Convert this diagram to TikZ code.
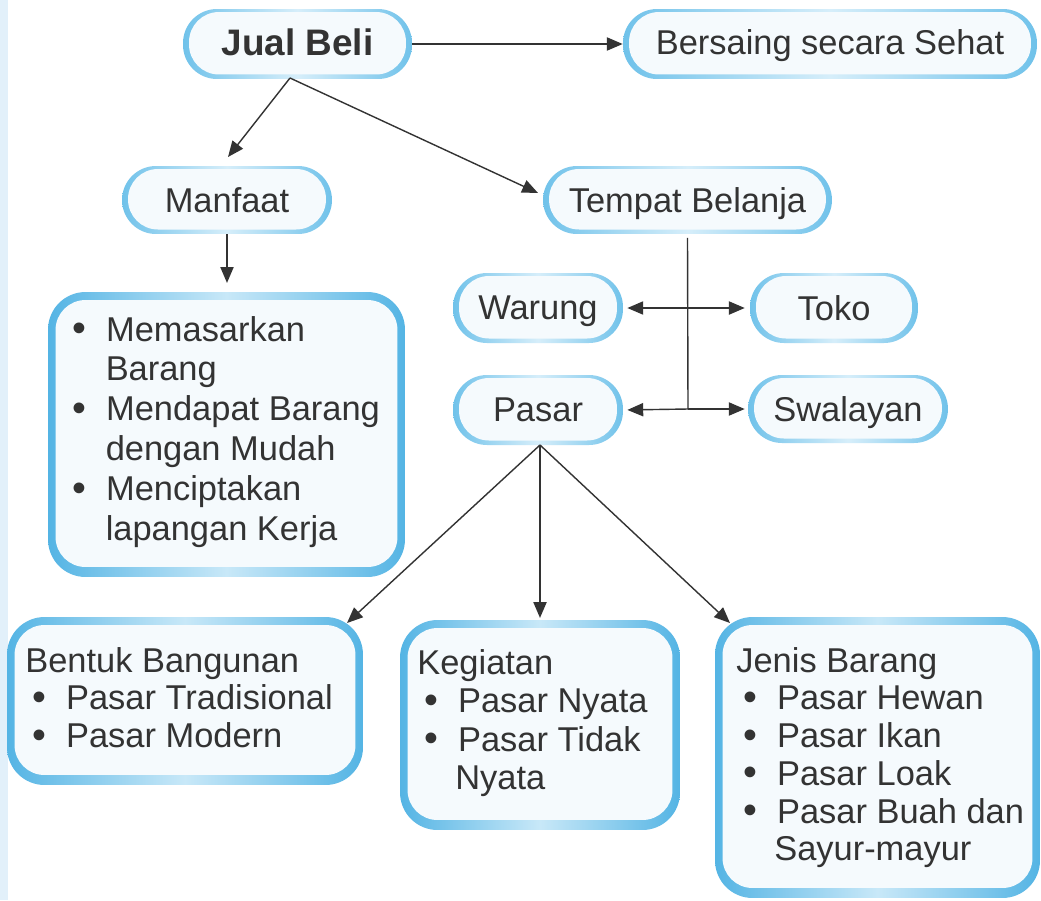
\documentclass[tikz,border=0pt]{standalone}
\usepackage{fontspec}
\setmainfont{Liberation Sans}
\usetikzlibrary{arrows.meta,calc}
\definecolor{bblue}{RGB}{84,180,228}
\definecolor{pblue}{RGB}{112,194,234}
\definecolor{blight}{RGB}{200,232,248}
\definecolor{plight}{RGB}{214,238,250}
\definecolor{bfill}{RGB}{245,250,253}
\definecolor{txt}{RGB}{51,51,51}
\definecolor{stripc}{RGB}{226,240,250}
\newcommand\bitem[1]{\hspace*{4.3pt}\makebox[18.9pt][l]{\smash{\raisebox{-0.3pt}{\scalebox{1.15}{\textbullet}}}}#1}
\newcommand\cont[1]{\hspace*{21.6pt}#1}
\begin{document}
\begin{tikzpicture}[x=0.02cm,y=-0.02cm,
  pill/.style={rectangle, rounded corners=0.68cm, minimum height=1.36cm, inner sep=0pt,
    left color=pblue, right color=pblue, middle color=plight,
    path picture={\fill[bfill, rounded corners=0.6cm]
      ([xshift=0.12cm,yshift=-0.06cm]path picture bounding box.north west) rectangle
      ([xshift=-0.12cm,yshift=0.09cm]path picture bounding box.south east);},
    font=\fontsize{19.6}{22}\selectfont, text=txt, text depth=0pt},
  listbox/.style={rectangle, rounded corners=0.75cm, inner sep=0pt,
    left color=bblue, right color=bblue, middle color=blight,
    path picture={\fill[bfill, rounded corners=0.6cm]
      ([xshift=0.15cm,yshift=-0.16cm]path picture bounding box.north west) rectangle
      ([xshift=-0.15cm,yshift=0.2cm]path picture bounding box.south east);}},
  listtext/.style={anchor=base west, inner sep=0pt, text=txt},
  arr/.style={draw=txt, line width=0.8pt, -{Triangle[length=9pt,width=7.5pt]}},
  plain/.style={draw=txt, line width=0.8pt}
]
\useasboundingbox (0,0) rectangle (1041,900);
\fill[white] (0,0) rectangle (1041,900);
\fill[stripc] (0,0) rectangle (8,900);

% pills
\node[pill, minimum width=4.58cm, minimum height=1.4cm] (jual) at (297.5,44)
  {\raisebox{2.3pt}{\bfseries\fontsize{21}{24}\selectfont Jual Beli}};
\node[pill, minimum width=8.28cm, minimum height=1.4cm] (bersaing) at (830,44)
  {\raisebox{1.8pt}{Bersaing secara Sehat}};
\node[pill, minimum width=4.2cm] (manfaat) at (227,200) {Manfaat};
\node[pill, minimum width=5.78cm] (tempat) at (687.5,200) {Tempat Belanja};
\node[pill, minimum width=3.4cm, minimum height=1.4cm] (warung) at (538,308) {Warung};
\node[pill, minimum width=3.36cm, minimum height=1.4cm] (toko) at (834,308) {Toko};
\node[pill, minimum width=3.4cm, minimum height=1.4cm] (pasar) at (538,410) {Pasar};
\node[pill, minimum width=4.0cm] (swalayan) at (848,409) {Swalayan};

% list boxes
\node[listbox, minimum width=7.14cm, minimum height=5.70cm] (mbox) at (226.5,434.5) {};
\node[listbox, minimum width=7.12cm, minimum height=3.36cm] (bentuk) at (185,701) {};
\node[listbox, minimum width=5.6cm, minimum height=4.2cm] (kegiatan) at (540,725) {};
\node[listbox, minimum width=6.5cm, minimum height=5.62cm] (jenis) at (877.5,757.5) {};

\node[listtext] (mtext) at (65,341) {\parbox[t]{8cm}{\fontsize{19.6}{22.7}\selectfont
  \bitem{Memasarkan}\\
  \hspace*{23pt}Barang\\
  \bitem{Mendapat Barang}\\
  \hspace*{23pt}dengan Mudah\\
  \bitem{Menciptakan}\\
  \hspace*{23pt}lapangan Kerja}};
\node[listtext] (btext) at (25,672) {\parbox[t]{8cm}{\fontsize{19.6}{21.5}\selectfont
  Bentuk Bangunan\\
  \bitem{Pasar Tradisional}\\
  \bitem{Pasar Modern}}};
\node[listtext] (ktext) at (417,674) {\parbox[t]{8cm}{\fontsize{19.6}{22}\selectfont
  Kegiatan\\
  \bitem{Pasar Nyata}\\
  \bitem{Pasar Tidak}\\
  \cont{Nyata}}};
\node[listtext] (jtext) at (736,672) {\parbox[t]{8cm}{\fontsize{19.6}{21.5}\selectfont
  Jenis Barang\\
  \bitem{Pasar Hewan}\\
  \bitem{Pasar Ikan}\\
  \bitem{Pasar Loak}\\
  \bitem{Pasar Buah dan}\\
  \cont{Sayur-mayur}}};

% coordinates
\coordinate (j1) at (290,78);
\coordinate (mtip) at (228,157);
\coordinate (ttip) at (538,193);
\coordinate (t1) at (688,308);
\coordinate (t2) at (688,409);
\coordinate (p1) at (540,445);
\coordinate (btip) at (347,623);
\coordinate (jtip) at (730,623);

% connectors
\draw[arr] (jual.east) -- (bersaing.west);
\draw[arr] (j1) -- (mtip);
\draw[arr] (j1) -- (ttip);
\draw[arr, shorten >=5pt] (manfaat.south) -- (manfaat.south |- mbox.north);
\draw[plain] ([yshift=-2pt]tempat.south) -- (t2);
\draw[arr, shorten >=2.3pt] (t1) -- (warung.east);
\draw[arr, shorten >=2.8pt] (t1) -- (toko.west);
\draw[arr, shorten >=2.3pt] (t2) -- (pasar.east);
\draw[arr, shorten >=1.7pt] (t2) -- (swalayan.west);
\draw[arr] (p1) -- (btip);
\draw[arr, shorten >=1pt] (p1) -- (kegiatan.north);
\draw[arr] (p1) -- (jtip);
\end{tikzpicture}
\end{document}
